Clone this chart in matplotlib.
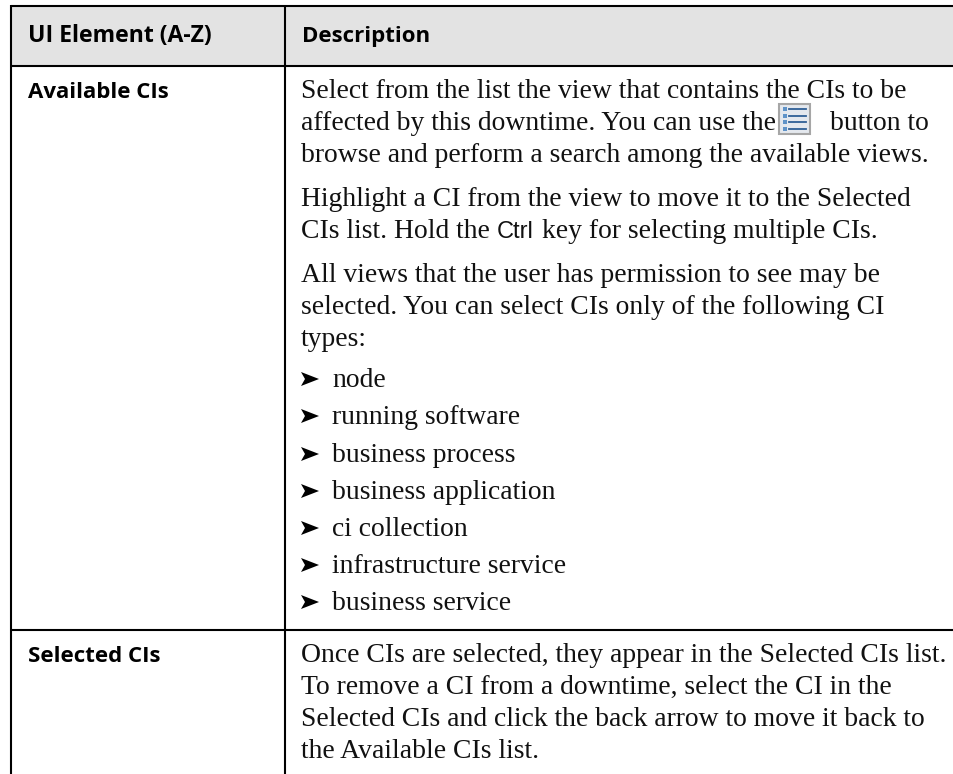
import matplotlib
matplotlib.use("Agg")
import matplotlib.pyplot as plt
from matplotlib.patches import Rectangle, Polygon

W, H = 954, 774
SERIF = ["Liberation Serif", "DejaVu Serif"]
SANS = ["Open Sans", "DejaVu Sans"]

headers = ["UI Element (A-Z)", "Description"]
row_names = ["Available CIs", "Selected CIs"]
available_lines = [
    ("Select from the list the view that contains the CIs to be", 98),
    ("affected by this downtime. You can use the", 130),
    ("browse and perform a search among the available views.", 162),
    ("Highlight a CI from the view to move it to the Selected", 206),
    ("CIs list. Hold the", 238),
    ("All views that the user has permission to see may be", 282),
    ("selected. You can select CIs only of the following CI", 314),
    ("types:", 346),
]
bullets = [("node", 387), ("running software", 424), ("business process", 462),
           ("business application", 499), ("ci collection", 536),
           ("infrastructure service", 573), ("business service", 610)]
selected_lines = [
    ("Once CIs are selected, they appear in the Selected CIs list.", 662),
    ("To remove a CI from a downtime, select the CI in the", 694),
    ("Selected CIs and click the back arrow to move it back to", 726),
    ("the Available CIs list.", 758),
]

fig = plt.figure(figsize=(W / 100, H / 100), dpi=100)
ax = fig.add_axes([0, 0, 1, 1])
ax.set_xlim(0, W)
ax.set_ylim(H, 0)
ax.axis("off")

ax.add_patch(Rectangle((11, 6), W - 11, 60, fc="#e3e3e3", ec="none"))
lw = 1.5
for y in (6, 66, 630):
    ax.plot([11, W], [y, y], color="black", lw=lw, solid_capstyle="butt")
for x in (11, 285):
    ax.plot([x, x], [5, H], color="black", lw=lw, solid_capstyle="butt")

BODY = 19.9
ax.text(28, 42, headers[0], family=SANS, weight="bold", fontsize=16.6, va="baseline")
ax.text(302, 42, headers[1], family=SANS, weight="bold", fontsize=16.0, va="baseline")
ax.text(28, 98, row_names[0], family=SANS, weight="bold", fontsize=16.0, va="baseline")
ax.text(28, 662, row_names[1], family=SANS, weight="bold", fontsize=16.0, va="baseline")

def body(x, y, s):
    ax.text(x, y, s, family=SERIF, fontsize=BODY, va="baseline", color="#111111")

for s, y in available_lines + selected_lines:
    body(301, y, s)

# inline runs around the icon and the Ctrl key
body(830, 130, "button to")
ax.text(497, 238, "Ctrl", family=["Liberation Sans"], fontsize=17, va="baseline", color="#111111")
body(542, 238, "key for selecting multiple CIs.")

for s, y in bullets:
    ax.add_patch(Polygon([(301, y - 15), (319, y - 8), (301, y - 1), (305, y - 8)], fc="black", ec="none"))
    body(332, y, s)

# list icon
ax.add_patch(Rectangle((779, 104), 31, 30, fc="#e4e8ee", ec="#a6a6a6", lw=1.5))
for yy in (109, 116, 122, 129):
    ax.add_patch(Rectangle((783, yy - 2), 4, 4, fc="#5f93c8", ec="none"))
    ax.plot([789, 806], [yy, yy], color="#2f5f96", lw=1.3)

fig.savefig("out.png", dpi=100)
